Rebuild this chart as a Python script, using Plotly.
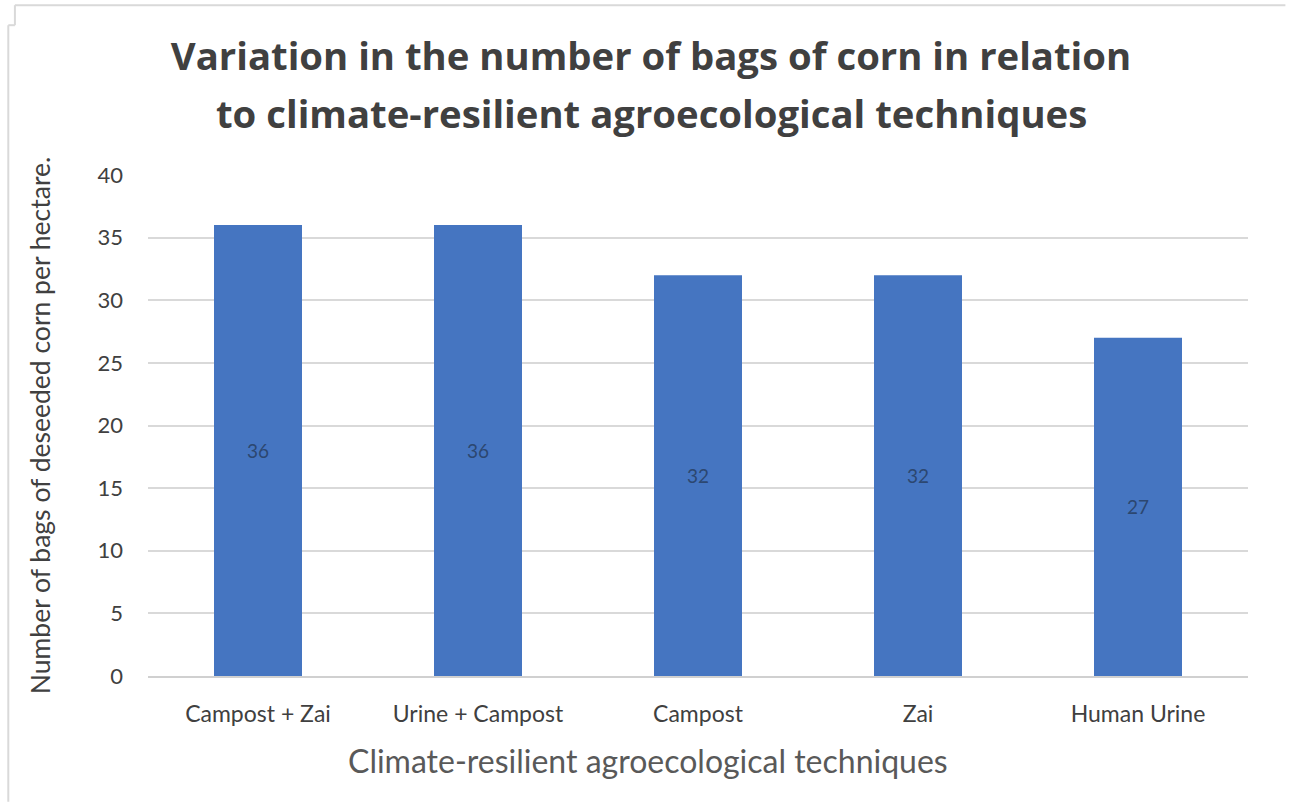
import plotly.graph_objects as go

categories = ["Campost + Zai", "Urine + Campost", "Campost", "Zai", "Human Urine"]
values = [36, 36, 32, 32, 27]
y_ticks = [0, 5, 10, 15, 20, 25, 30, 35, 40]

title_line1 = "Variation in the number of bags of corn in relation"
title_line2 = "to climate-resilient agroecological techniques"
x_title = "Climate-resilient agroecological techniques"
y_title = "Number of bags of deseeded corn per hectare."

fig = go.Figure()
fig.add_trace(go.Bar(
    x=categories, y=values,
    width=0.4,
    marker=dict(color="#4575c1", line=dict(width=0)),
    text=[str(v) for v in values],
    textposition="inside",
    insidetextanchor="middle",
    textfont=dict(family="Lato", size=19, color="#2c4770"),
    hoverinfo="x+y",
))

title_font = dict(family="Open Sans", size=38.3, color="#404040", weight="bold")

fig.update_layout(
    width=1289, height=802,
    paper_bgcolor="white", plot_bgcolor="white",
    margin=dict(l=148, r=41, t=175, b=126, autoexpand=False),
    showlegend=False,
    bargap=0.6,
    title=dict(
        text=title_line1,
        font=title_font,
        x=651 / 1289, xanchor="center", xref="container",
        y=1 - 57 / 802, yanchor="middle", yref="container",
    ),
    xaxis=dict(
        tickfont=dict(family="Lato", size=23, color="#404040"),
        showline=True, linecolor="#d0d0d0", linewidth=2,
        ticks="", ticklabelstandoff=16, automargin=False,
    ),
    yaxis=dict(
        title=dict(text=y_title, font=dict(family="Lato", size=26.5, color="#404040"), standoff=39),
        range=[0, 40], tickvals=y_ticks,
        tickfont=dict(family="Lato", size=22, color="#404040"),
        showgrid=True, gridcolor="#d9d9d9", gridwidth=2,
        zeroline=False, ticks="", ticklabelstandoff=24, automargin=False,
    ),
    annotations=[
        dict(text=title_line2, xref="paper", yref="paper", x=(651 - 148) / 1100, y=(676 - 113) / 501,
             xanchor="center", yanchor="middle", showarrow=False, font=title_font),
        dict(text=x_title, xref="paper", yref="paper", x=(648 - 148) / 1100, y=(676 - 760) / 501,
             xanchor="center", yanchor="middle", showarrow=False,
             font=dict(family="Lato", size=32, color="#595959")),
    ],
    shapes=[
        dict(type="line", xref="paper", yref="paper", x0=-0.121, x1=1.034, y0=1.339, y1=1.339,
             line=dict(color="#d9d9d9", width=2)),
        dict(type="line", xref="paper", yref="paper", x0=-0.127, x1=-0.127, y0=-0.251, y1=1.299,
             line=dict(color="#d9d9d9", width=2)),
        dict(type="line", xref="paper", yref="paper", x0=-0.127, x1=-0.121, y0=1.299, y1=1.299,
             line=dict(color="#d9d9d9", width=2)),
        dict(type="line", xref="paper", yref="paper", x0=-0.121, x1=-0.121, y0=1.299, y1=1.339,
             line=dict(color="#d9d9d9", width=2)),
    ],
)

fig.write_html("out.html", config={"displayModeBar": False},
               post_script="document.body.style.margin='0';")
